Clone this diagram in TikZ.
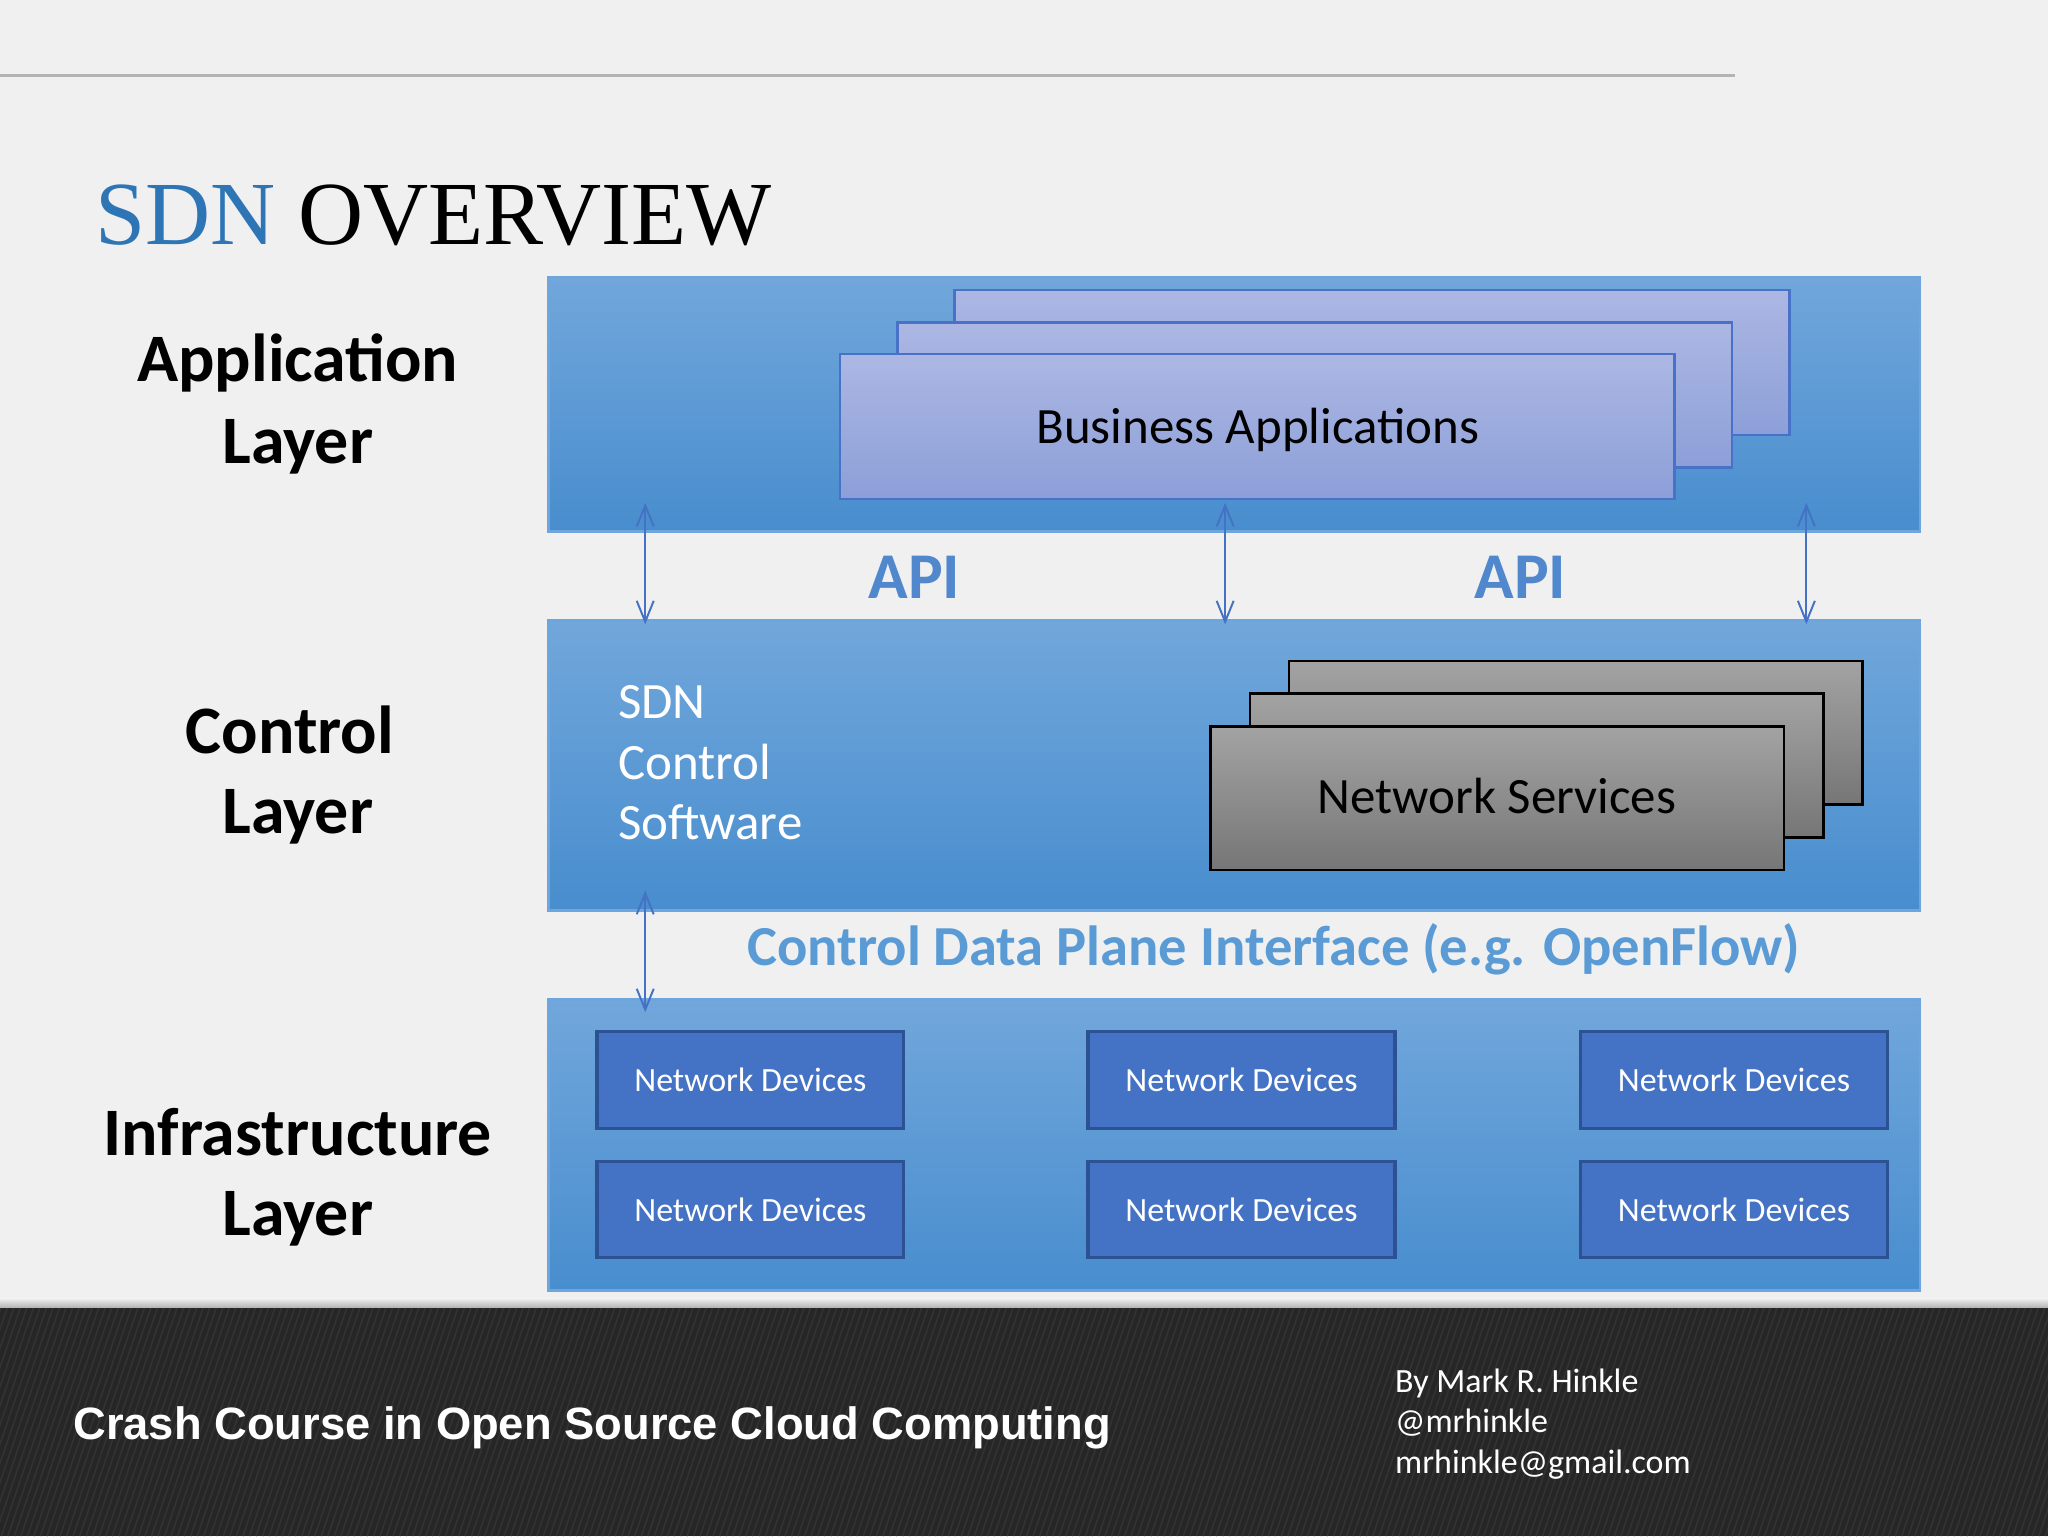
\documentclass[tikz,border=0pt]{standalone}
\usepackage{fontspec}
\setmainfont{Carlito}
\newfontfamily\titlefont{Liberation Serif}
\newfontfamily\footfont{Liberation Sans}
\usetikzlibrary{arrows.meta}
\definecolor{bgc}{RGB}{240,240,241}
\definecolor{footc}{RGB}{38,38,38}
\definecolor{stripec}{RGB}{50,50,50}
\definecolor{rulec}{RGB}{180,180,180}
\definecolor{titleblue}{RGB}{46,117,182}
\definecolor{laytop}{RGB}{113,167,219}
\definecolor{laymid}{RGB}{86,155,220}
\definecolor{laybot}{RGB}{72,141,206}
\definecolor{layedge}{RGB}{110,165,220}
\definecolor{lavtop}{RGB}{172,183,227}
\definecolor{lavbot}{RGB}{140,159,216}
\definecolor{lavedge}{RGB}{72,114,200}
\definecolor{graytop}{RGB}{163,163,163}
\definecolor{graybot}{RGB}{118,118,118}
\definecolor{devfill}{RGB}{68,114,196}
\definecolor{devedge}{RGB}{44,82,148}
\definecolor{apiblue}{RGB}{80,135,205}
\definecolor{cdpblue}{RGB}{91,155,213}
\definecolor{arrowc}{RGB}{68,114,196}
\begin{document}
\begin{tikzpicture}[x=1pt,y=-1pt,
  layerbox/.style={draw=layedge, line width=2pt, top color=laytop, middle color=laymid, bottom color=laybot, anchor=north west, inner sep=0pt, outer sep=0pt, minimum width=1050pt},
  appcard/.style={draw=lavedge, line width=2pt, top color=lavtop, bottom color=lavbot, anchor=north west, inner sep=0pt, outer sep=0pt, minimum width=639pt, minimum height=111pt},
  svccard/.style={draw=black, line width=2pt, top color=graytop, bottom color=graybot, anchor=north west, inner sep=0pt, outer sep=0pt, minimum width=439pt, minimum height=110pt},
  devbox/.style={draw=devedge, line width=2.5pt, fill=devfill, anchor=north west, inner sep=0pt, outer sep=0pt, minimum width=235pt, minimum height=74pt, text=white, font=\fontsize{26}{30}\selectfont},
  layerlbl/.style={anchor=base, inner sep=0pt, font=\fontsize{52}{60}\bfseries\selectfont},
  apilbl/.style={anchor=base, inner sep=0pt, text=apiblue, font=\fontsize{50}{60}\bfseries\selectfont},
  sdnlbl/.style={anchor=base west, inner sep=0pt, text=white, font=\fontsize{39}{45}\selectfont},
  cardtxt/.style={anchor=base, inner sep=0pt, font=\fontsize{39}{45}\selectfont},
  authlbl/.style={anchor=base west, inner sep=0pt, text=white, font=\fontsize{26}{30}\selectfont},
  apiarrow/.style={draw=arrowc, line width=1.5pt, {Straight Barb[length=16pt,width=13pt]}-{Straight Barb[length=16pt,width=13pt]}}
]
\useasboundingbox (0,0) rectangle (1568,1176);
% background
\fill[bgc] (0,0) rectangle (1568,1000);
\draw[rulec, line width=2.5pt] (0,58) -- (1328,58);
% footer
\fill[footc] (0,1000) rectangle (1568,1176);
\begin{scope}
  \clip (0,1000) rectangle (1568,1176);
  \foreach \i in {-64,-59,...,1568} \draw[stripec, line width=1.3pt] (\i,1176) -- (\i+60,1000);
\end{scope}
\shade[top color=bgc, bottom color=rulec] (0,994) rectangle (1568,1001);
% title
\node[anchor=base west, inner sep=0pt, font=\titlefont\fontsize{69}{80}\selectfont] (title) at (73,187) {\textcolor{titleblue}{SDN} OVERVIEW};
% layer labels
\node[layerlbl] (applbl1) at (228,292) {Application};
\node[layerlbl] (applbl2) at (228,355) {Layer};
\node[layerlbl] (ctllbl1) at (222,577) {Control};
\node[layerlbl] (ctllbl2) at (228,638) {Layer};
\node[layerlbl] (inflbl1) at (228,885) {Infrastructure};
\node[layerlbl] (inflbl2) at (228,946) {Layer};
% application layer
\node[layerbox, minimum height=195pt] (app) at (420,212) {};
\node[appcard] (ba3) at (731,222) {};
\node[appcard] (ba2) at (687,247) {};
\node[appcard] (ba1) at (643,271) {};
\node[cardtxt] (batxt) at (963,339.5) {Business Applications};
% control layer
\node[layerbox, minimum height=222pt] (ctl) at (420,475) {};
\node[sdnlbl] (sdn1) at (473,550) {SDN};
\node[sdnlbl] (sdn2) at (473,597) {Control};
\node[sdnlbl] (sdn3) at (473,643) {Software};
\node[svccard] (ns3) at (987,506) {};
\node[svccard] (ns2) at (957,531) {};
\node[svccard] (ns1) at (927,556) {};
\node[cardtxt] (nstxt) at (1146,623) {Network Services};
% infrastructure layer
\node[layerbox, minimum height=223pt] (inf) at (420,765) {};
\node[devbox] (d11) at (457,790) {Network Devices};
\node[devbox] (d12) at (833,790) {Network Devices};
\node[devbox] (d13) at (1210,790) {Network Devices};
\node[devbox] (d21) at (457,889) {Network Devices};
\node[devbox] (d22) at (833,889) {Network Devices};
\node[devbox] (d23) at (1210,889) {Network Devices};
% interface labels
\node[apilbl] (api1) at (700,458) {API};
\node[apilbl] (api2) at (1164,458) {API};
\node[anchor=base west, inner sep=0pt, text=cdpblue, font=\fontsize{43.3}{50}\bfseries\selectfont] (cdpi) at (572,739) {Control Data Plane Interface (e.g. OpenFlow)};
% arrows
\coordinate (a1t) at (494,385); \coordinate (a1b) at (494,478);
\coordinate (a2t) at (938,385); \coordinate (a2b) at (938,478);
\coordinate (a3t) at (1383,385); \coordinate (a3b) at (1383,478);
\coordinate (a4t) at (494,682); \coordinate (a4b) at (494,775);
\draw[apiarrow] (a1t) -- (a1b);
\draw[apiarrow] (a2t) -- (a2b);
\draw[apiarrow] (a3t) -- (a3b);
\draw[apiarrow] (a4t) -- (a4b);
% footer texts
\node[anchor=base west, inner sep=0pt, text=white, font=\footfont\fontsize{34.7}{40}\bfseries\selectfont] (course) at (56,1102) {Crash Course in Open Source Cloud Computing};
\node[authlbl] (auth1) at (1068,1066) {By Mark R. Hinkle};
\node[authlbl] (auth2) at (1068,1097) {@mrhinkle};
\node[authlbl] (auth3) at (1068,1128) {mrhinkle@gmail.com};
\end{tikzpicture}
\end{document}
